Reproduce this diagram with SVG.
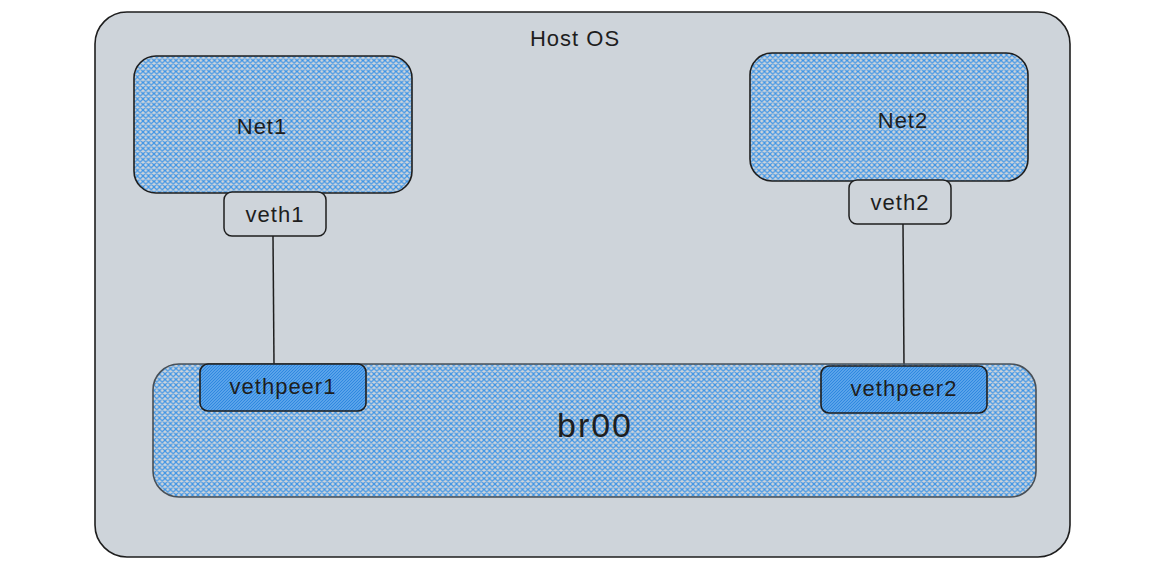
<svg xmlns="http://www.w3.org/2000/svg" width="1168" height="565" viewBox="0 0 1168 565">
<defs>
<pattern id="hatch" width="5.5" height="5.5" patternUnits="userSpaceOnUse">
<path d="M0,0 L5.5,5.5 M5.5,0 L0,5.5 M-1,4.5 L1,6.5 M4.5,-1 L6.5,1 M4.5,6.5 L6.5,4.5 M-1,1 L1,-1" stroke="#3d94e6" stroke-width="1.2" fill="none"/>
</pattern>
<pattern id="hatchDense" width="3" height="3" patternUnits="userSpaceOnUse">
<rect width="3" height="3" fill="#5aa3ea"/>
<path d="M0,3 L3,0 M-1,1 L1,-1 M2,4 L4,2" stroke="#2e88e0" stroke-width="1" fill="none"/>
</pattern>
<style>
.lbl{font-family:"Liberation Sans","DejaVu Sans",sans-serif;fill:#1e1e1e;text-anchor:middle;dominant-baseline:central;letter-spacing:1px}
.blue{fill:url(#hatch);stroke:#1e1e1e;stroke-width:1.6}
.small{fill:#ced4da;stroke:#1e1e1e;stroke-width:1.5}
.peer{fill:url(#hatchDense);stroke:#1e1e1e;stroke-width:1.6}
</style>
</defs>
<rect width="1168" height="565" fill="#ffffff"/>
<g id="host">
<rect x="95" y="12" width="975" height="545" rx="32" fill="#ced4da" stroke="#1e1e1e" stroke-width="1.6"/>
<text class="lbl" x="575" y="38" font-size="22">Host OS</text>
</g>
<g id="connectors" stroke="#1e1e1e" stroke-width="1.5" fill="none">
<line x1="273" y1="236" x2="274" y2="364"/>
<line x1="903" y1="224" x2="904" y2="366"/>
</g>
<g id="net1">
<rect class="blue" x="134" y="56" width="278" height="137" rx="22"/>
<text class="lbl" x="262" y="126" font-size="22">Net1</text>
</g>
<g id="net2">
<rect class="blue" x="750" y="53" width="278" height="128" rx="22"/>
<text class="lbl" x="903" y="120" font-size="22">Net2</text>
</g>
<g id="veth1">
<rect class="small" x="224" y="192" width="102" height="44" rx="8"/>
<text class="lbl" x="275" y="214" font-size="22">veth1</text>
</g>
<g id="veth2">
<rect class="small" x="849" y="180" width="102" height="44" rx="8"/>
<text class="lbl" x="900" y="202" font-size="22">veth2</text>
</g>
<g id="br00">
<rect x="153" y="364" width="883" height="133" rx="26" fill="url(#hatch)" stroke="#495057" stroke-width="1.6"/>
<text class="lbl" x="595" y="425" font-size="34" style="letter-spacing:2px">br00</text>
</g>
<g id="vethpeer1">
<rect class="peer" x="200" y="364" width="166" height="47" rx="8"/>
<text class="lbl" x="283" y="386" font-size="22">vethpeer1</text>
</g>
<g id="vethpeer2">
<rect class="peer" x="821" y="366" width="166" height="47" rx="8"/>
<text class="lbl" x="904" y="388" font-size="22">vethpeer2</text>
</g>
</svg>
